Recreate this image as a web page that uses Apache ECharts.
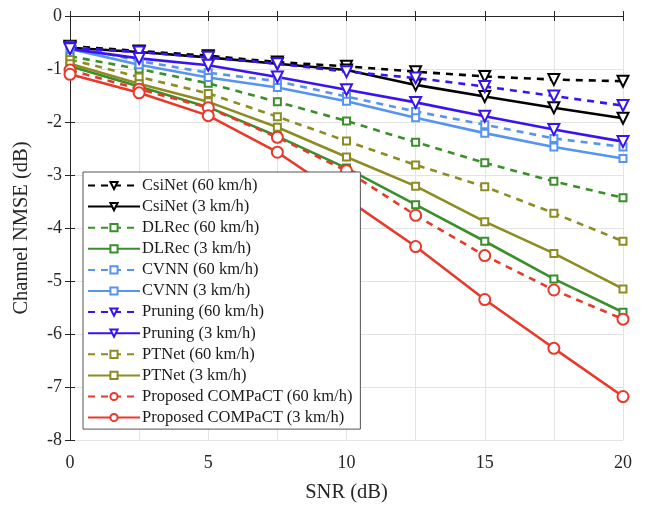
<!DOCTYPE html>
<html>
<head>
<meta charset="utf-8">
<script src="https://cdn.jsdelivr.net/npm/echarts@6/dist/echarts.min.js"></script>
<style>
  html, body { margin: 0; padding: 0; background: #fff; }
  #chart { width: 645px; height: 508px; }
</style>
</head>
<body>
<div id="chart"></div>
<script>
// SNR sweep (dB)
const snr = [0, 2.5, 5, 7.5, 10, 12.5, 15, 17.5, 20];

// Channel NMSE (dB) per scheme and user speed
const csinet60   = [-0.57, -0.66, -0.75, -0.87, -0.95, -1.05, -1.14, -1.20, -1.23];
const csinet3    = [-0.60, -0.68, -0.78, -0.90, -1.02, -1.30, -1.52, -1.73, -1.93];
const dlrec60    = [-0.76, -1.00, -1.27, -1.62, -1.98, -2.38, -2.77, -3.12, -3.43];
const dlrec3     = [-0.95, -1.33, -1.72, -2.27, -2.87, -3.56, -4.25, -4.96, -5.59];
const cvnn60     = [-0.55, -0.85, -1.07, -1.23, -1.52, -1.80, -2.05, -2.31, -2.47];
const cvnn3      = [-0.62, -0.92, -1.16, -1.35, -1.61, -1.92, -2.21, -2.47, -2.69];
const pruning60  = [-0.60, -0.68, -0.78, -0.90, -1.05, -1.17, -1.33, -1.51, -1.69];
const pruning3   = [-0.62, -0.80, -0.93, -1.15, -1.39, -1.63, -1.89, -2.14, -2.37];
const ptnet60    = [-0.82, -1.15, -1.46, -1.90, -2.36, -2.81, -3.22, -3.72, -4.25];
const ptnet3     = [-0.90, -1.28, -1.62, -2.10, -2.66, -3.21, -3.88, -4.48, -5.15];
const compact60  = [-1.02, -1.38, -1.73, -2.29, -2.92, -3.76, -4.52, -5.17, -5.72];
const compact3   = [-1.10, -1.45, -1.88, -2.57, -3.45, -4.35, -5.35, -6.27, -7.18];

// Axis ticks
const xTicks = [0, 5, 10, 15, 20];
const yTicks = [0, -1, -2, -3, -4, -5, -6, -7, -8];

const colors = {
  black: '#000000',
  green: '#3a8f2a',
  lightBlue: '#5794f2',
  blue: '#3a14f0',
  olive: '#8c8c22',
  red: '#e8392a'
};

const serif = '"Liberation Serif", "DejaVu Serif", serif';

function pts(ys) { return snr.map((x, i) => [x, ys[i]]); }

function line(name, ys, color, dashed, marker) {
  const m = {
    tri:    { symbol: 'emptyTriangle', size: 11, rotate: 180, bw: 3 },
    square: { symbol: 'emptyRect', size: 7, rotate: 0, bw: 3 },
    circle: { symbol: 'emptyCircle', size: 11, rotate: 0, bw: 2.4 }
  }[marker];
  return {
    name: name,
    type: 'line',
    data: pts(ys),
    symbol: m.symbol,
    symbolSize: m.size,
    symbolRotate: m.rotate,
    showAllSymbol: true,
    animation: false,
    lineStyle: { color: color, width: 2.6, type: dashed ? [7, 6] : 'solid' },
    itemStyle: { color: color, borderColor: color, borderWidth: m.bw },
    emphasis: { disabled: true }
  };
}

const series = [
  line('CsiNet (60 km/h)', csinet60, colors.black, true, 'tri'),
  line('CsiNet (3 km/h)', csinet3, colors.black, false, 'tri'),
  line('DLRec (60 km/h)', dlrec60, colors.green, true, 'square'),
  line('DLRec (3 km/h)', dlrec3, colors.green, false, 'square'),
  line('CVNN (60 km/h)', cvnn60, colors.lightBlue, true, 'square'),
  line('CVNN (3 km/h)', cvnn3, colors.lightBlue, false, 'square'),
  line('Pruning (60 km/h)', pruning60, colors.blue, true, 'tri'),
  line('Pruning (3 km/h)', pruning3, colors.blue, false, 'tri'),
  line('PTNet (60 km/h)', ptnet60, colors.olive, true, 'square'),
  line('PTNet (3 km/h)', ptnet3, colors.olive, false, 'square'),
  line('Proposed COMPaCT (60 km/h)', compact60, colors.red, true, 'circle'),
  line('Proposed COMPaCT (3 km/h)', compact3, colors.red, false, 'circle')
];

const axisColor = '#262626';

const chart = echarts.init(document.getElementById('chart'), null, { renderer: 'canvas' });
chart.setOption({
  backgroundColor: '#ffffff',
  animation: false,
  grid: { left: 70, right: 22, top: 16, bottom: 66, show: false },
  legend: {
    orient: 'vertical',
    left: 83,
    top: 172,
    padding: [5, 8, 3, 4],
    itemWidth: 52,
    itemHeight: 9,
    itemGap: 4.1,
    backgroundColor: '#ffffff',
    borderColor: '#555555',
    borderWidth: 1,
    textStyle: { fontFamily: serif, fontSize: 16.5, color: '#1a1a1a', padding: [0, 0, 0, -3] },
    data: series.map(s => s.name)
  },
  xAxis: [{
    type: 'value',
    min: 0, max: 20, interval: 2.5,
    name: 'SNR (dB)',
    nameLocation: 'middle',
    nameGap: 42,
    nameTextStyle: { fontFamily: serif, fontSize: 20.5, color: '#262626' },
    axisLine: { show: true, lineStyle: { color: axisColor, width: 1 } },
    axisTick: { show: true, inside: true, length: 5, lineStyle: { color: axisColor } },
    axisLabel: {
      fontFamily: serif, fontSize: 18, color: '#262626', margin: 14,
      formatter: v => (xTicks.indexOf(v) >= 0 ? String(v) : '')
    },
    splitLine: { show: true, lineStyle: { color: '#e3e3e3', width: 1 } }
  }, {
    type: 'value',
    position: 'top',
    min: 0, max: 20, interval: 2.5,
    axisLine: { show: true, lineStyle: { color: axisColor, width: 1 } },
    axisTick: { show: true, inside: true, length: 5, lineStyle: { color: axisColor } },
    axisLabel: { show: false },
    splitLine: { show: false }
  }],
  yAxis: [{
    type: 'value',
    min: -8, max: 0, interval: 1,
    name: 'Channel NMSE (dB)',
    nameLocation: 'middle',
    nameGap: 38,
    nameRotate: 90,
    nameTextStyle: { fontFamily: serif, fontSize: 20.5, color: '#262626' },
    axisLine: { show: true, lineStyle: { color: axisColor, width: 1 } },
    axisTick: { show: true, inside: true, length: 5, lineStyle: { color: axisColor } },
    axisLabel: {
      fontFamily: serif, fontSize: 18, color: '#262626', margin: 8,
      formatter: v => (yTicks.indexOf(v) >= 0 ? String(v) : '')
    },
    splitLine: { show: true, lineStyle: { color: '#e3e3e3', width: 1 } }
  }, {
    type: 'value',
    position: 'right',
    min: -8, max: 0, interval: 1,
    axisLine: { show: true, lineStyle: { color: axisColor, width: 1 } },
    axisTick: { show: true, inside: true, length: 5, lineStyle: { color: axisColor } },
    axisLabel: { show: false },
    splitLine: { show: false }
  }],
  series: series
});
</script>
</body>
</html>
